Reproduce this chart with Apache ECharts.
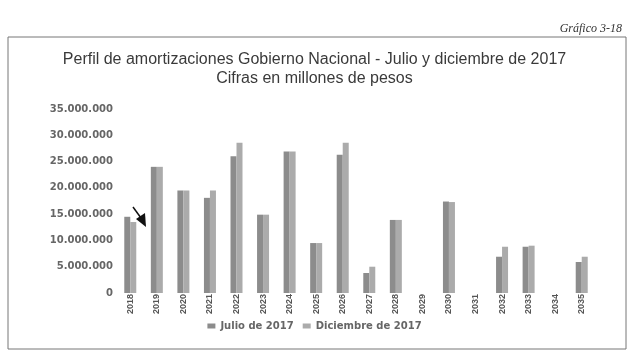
<!DOCTYPE html>
<html>
<head>
<meta charset="utf-8">
<script src="https://cdn.jsdelivr.net/npm/echarts@6/dist/echarts.min.js"></script>
<style>
  html, body { margin: 0; padding: 0; background: #fff; }
  #chart { width: 629px; height: 352px; }
</style>
</head>
<body>
<div id="chart"></div>
<script>
// Años de vencimiento
const years = ['2018','2019','2020','2021','2022','2023','2024','2025','2026','2027','2028','2029','2030','2031','2032','2033','2034','2035'];
// Amortizaciones (millones de pesos) según perfil de julio de 2017
const julio2017 = [14500000, 24000000, 19500000, 18100000, 26000000, 14900000, 26900000, 9500000, 26300000, 3800000, 13900000, 0, 17400000, 0, 6900000, 8800000, 0, 5900000];
// Amortizaciones (millones de pesos) según perfil de diciembre de 2017
const diciembre2017 = [13500000, 24000000, 19500000, 19500000, 28600000, 14900000, 26900000, 9500000, 28600000, 5000000, 13900000, 0, 17300000, 0, 8800000, 9000000, 0, 6900000];
const seriesNames = ['Julio de 2017', 'Diciembre de 2017'];
const yTicks = { min: 0, max: 35000000, interval: 5000000 };

function fmtMiles(v) {
  return String(Math.round(v)).replace(/\B(?=(\d{3})+(?!\d))/g, '.');
}

const chart = echarts.init(document.getElementById('chart'), null, { renderer: 'canvas' });

chart.setOption({
  backgroundColor: '#ffffff',
  animation: false,
  title: [{
    text: 'Perfil de amortizaciones Gobierno Nacional - Julio y diciembre de 2017\nCifras en millones de pesos',
    left: 'center',
    top: 45,
    textStyle: {
      fontFamily: 'Liberation Sans, Arial, sans-serif',
      fontSize: 16,
      fontWeight: 'normal',
      color: '#3a3a3a',
      lineHeight: 19
    }
  }, {
    text: 'Gráfico 3-18',
    right: 2,
    top: 18,
    textStyle: {
      fontFamily: 'Liberation Serif, DejaVu Serif, serif',
      fontStyle: 'italic',
      fontSize: 12,
      fontWeight: 'normal',
      color: '#333'
    }
  }],
  legend: {
    data: seriesNames,
    bottom: 16,
    left: 'center',
    itemWidth: 8,
    itemHeight: 5,
    itemGap: 9,
    icon: 'rect',
    textStyle: {
      fontFamily: 'DejaVu Sans, Verdana, sans-serif',
      fontSize: 10,
      fontWeight: 'bold',
      color: '#666'
    }
  },
  grid: {
    left: 117,
    right: 34,
    top: 109,
    bottom: 59,
    containLabel: false
  },
  xAxis: {
    type: 'category',
    data: years,
    axisLine: { show: false },
    axisTick: { show: false },
    axisLabel: {
      rotate: 90,
      margin: 1,
      fontFamily: 'Liberation Sans Narrow, Arial Narrow, sans-serif',
      fontSize: 9,
      fontWeight: 'bold',
      color: '#555'
    }
  },
  yAxis: {
    type: 'value',
    min: yTicks.min,
    max: yTicks.max,
    interval: yTicks.interval,
    axisLine: { show: false },
    axisTick: { show: false },
    splitLine: { show: false },
    axisLabel: {
      margin: 4,
      formatter: fmtMiles,
      fontFamily: 'DejaVu Sans, Verdana, sans-serif',
      fontSize: 10,
      fontWeight: 'bold',
      color: '#666'
    }
  },
  series: [{
    name: seriesNames[0],
    type: 'bar',
    data: julio2017,
    barWidth: 6,
    barGap: '0%',
    itemStyle: { color: '#8c8c8c' }
  }, {
    name: seriesNames[1],
    type: 'bar',
    data: diciembre2017,
    barWidth: 6,
    itemStyle: { color: '#ababab' }
  }],
  graphic: [{
    type: 'rect',
    shape: { x: 8, y: 37, width: 618, height: 312 },
    style: { fill: 'none', stroke: '#777', lineWidth: 1 },
    silent: true
  }, {
    type: 'group',
    silent: true,
    children: [{
      type: 'line',
      shape: { x1: 133, y1: 207, x2: 141, y2: 218 },
      style: { stroke: '#111', lineWidth: 1.5 }
    }, {
      type: 'polygon',
      shape: { points: [[136, 219], [145, 213], [146, 227]] },
      style: { fill: '#111' }
    }]
  }]
});
</script>
</body>
</html>
